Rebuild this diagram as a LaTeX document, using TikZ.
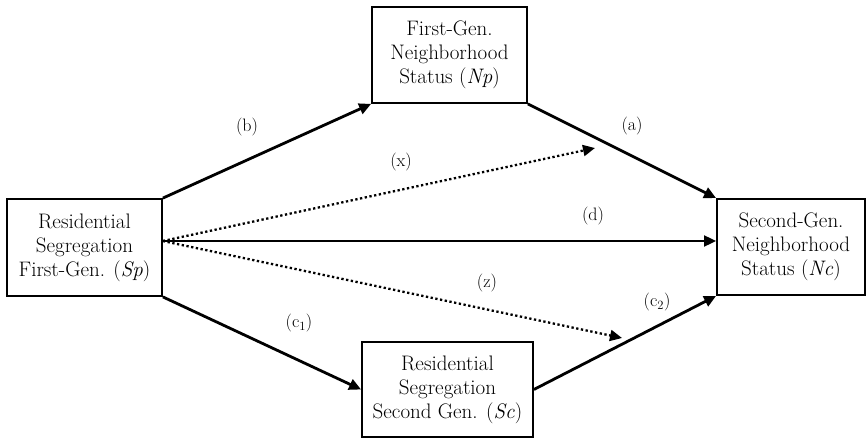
\documentclass[tikz,border=0pt]{standalone}
\usepackage{fontspec}
\usetikzlibrary{arrows.meta}
\begin{document}
\begin{tikzpicture}[x=1pt,y=-1pt,
  box/.style={draw, line width=1.8pt, align=center, inner sep=0pt, font=\fontsize{21}{24}\selectfont},
  lab/.style={font=\fontsize{18}{20}\selectfont, inner sep=0pt},
  tip/.style={-{Triangle[length=12pt,width=11pt]}},
  arr/.style={tip, line width=2.8pt},
  thinarr/.style={tip, line width=1.8pt},
  dotarr/.style={tip, line width=2.3pt, dash pattern=on 2.3pt off 2.5pt}]
\useasboundingbox (0,0) rectangle (867,438);
\node[box, minimum width=155pt, minimum height=97pt] (Sp) at (84.5,247.5)
  {Residential\\Segregation\\First-Gen. (\textit{Sp})};
\node[box, minimum width=155pt, minimum height=96pt] (Np) at (449.5,55)
  {First-Gen.\\Neighborhood\\Status (\textit{Np})};
\node[box, minimum width=148pt, minimum height=96pt] (Nc) at (791,247)
  {Second-Gen.\\Neighborhood\\Status (\textit{Nc})};
\node[box, minimum width=171pt, minimum height=95pt] (Sc) at (447.5,389.5)
  {Residential\\Segregation\\Second Gen. (\textit{Sc})};
\coordinate (src) at ([yshift=6.5pt]Sp.east);
\coordinate (xend) at (595,148);
\coordinate (zend) at (622,338);
\draw[arr] (Sp.north east) -- (Np.south west);
\draw[arr] (Np.south east) -- (Nc.north west);
\draw[arr] (Sp.south east) -- (Sc.west);
\draw[arr] (Sc.east) -- (Nc.south west);
\draw[thinarr] (src) -- (src -| Nc.west);
\draw[dotarr] (src) -- (xend);
\draw[dotarr] (src) -- (zend);
\node[lab] (lb) at (247,127) {(b)};
\node[lab] (la) at (632,126) {(a)};
\node[lab] (lx) at (401,162) {(x)};
\node[lab] (ld) at (593,216) {(d)};
\node[lab] (lz) at (487,283) {(z)};
\node[lab] (lc1) at (299,323) {(c\textsubscript{1})};
\node[lab] (lc2) at (657,302) {(c\textsubscript{2})};
\end{tikzpicture}
\end{document}
